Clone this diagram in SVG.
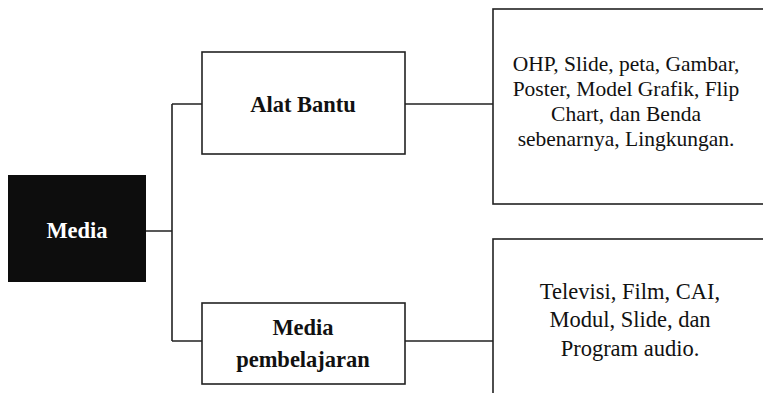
<svg xmlns="http://www.w3.org/2000/svg" width="763" height="393" viewBox="0 0 763 393">
<style>
.box{fill:#fff;stroke:#222;stroke-width:1.6}
.ln{fill:none;stroke:#222;stroke-width:1.6}
.b{font-family:"Liberation Serif","Times New Roman",serif;font-weight:bold;font-size:22.5px;fill:#111;text-anchor:middle}
.r{font-family:"Liberation Serif","Times New Roman",serif;font-size:21.5px;fill:#111;text-anchor:middle}
.r2{font-family:"Liberation Serif","Times New Roman",serif;font-size:22.5px;fill:#111;text-anchor:middle}
</style>
<rect width="763" height="393" fill="#fff"/>
<g id="connectors">
<path class="ln" d="M146 231H172M172 104V341M172 104H202M172 341H202M405 104H493M405 341H493"/>
</g>
<g id="media">
<rect x="8" y="175" width="138" height="107" fill="#0d0d0d"/>
<text class="b" x="77" y="238" style="fill:#fff">Media</text>
</g>
<g id="alat-bantu">
<rect class="box" x="202" y="52" width="203" height="102"/>
<text class="b" x="303" y="112">Alat Bantu</text>
</g>
<g id="media-pembelajaran">
<rect class="box" x="202" y="303" width="203" height="81"/>
<text class="b" x="303" y="335">Media</text>
<text class="b" x="303" y="367">pembelajaran</text>
</g>
<g id="alat-bantu-list">
<rect class="box" x="493" y="9" width="290" height="195"/>
<text class="r" x="626" y="71">OHP, Slide, peta, Gambar,</text>
<text class="r" x="626" y="96">Poster, Model Grafik, Flip</text>
<text class="r" x="626" y="121">Chart, dan Benda</text>
<text class="r" x="626" y="146">sebenarnya, Lingkungan.</text>
</g>
<g id="media-list">
<rect class="box" x="493" y="239" width="290" height="170"/>
<text class="r2" x="630" y="299">Televisi, Film, CAI,</text>
<text class="r2" x="630" y="327">Modul, Slide, dan</text>
<text class="r2" x="630" y="356">Program audio.</text>
</g>
</svg>
